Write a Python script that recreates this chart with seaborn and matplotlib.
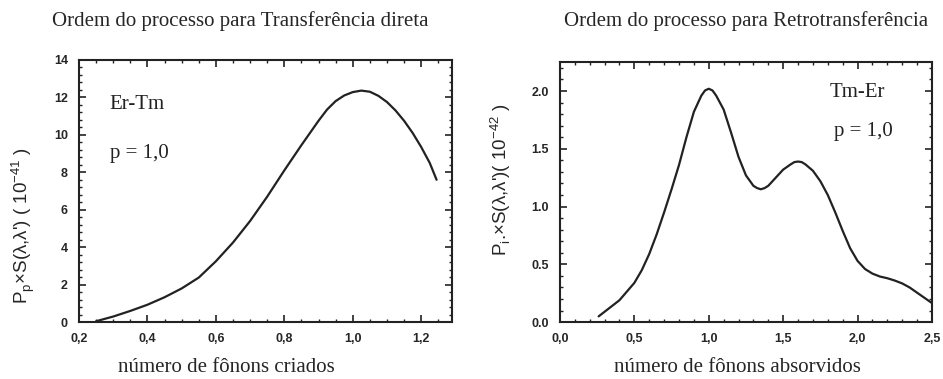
import matplotlib
matplotlib.use("Agg")
import matplotlib.pyplot as plt
from matplotlib.ticker import MultipleLocator
import seaborn as sns
import pandas as pd

# Direct transfer Er -> Tm: phonons created
direct_x = [0.25, 0.30, 0.35, 0.40, 0.45, 0.50, 0.55, 0.60, 0.65, 0.70, 0.75,
            0.80, 0.85, 0.90, 0.925, 0.95, 0.975, 1.00, 1.025, 1.05, 1.075,
            1.10, 1.125, 1.15, 1.175, 1.20, 1.225, 1.245]
direct_y = [0.05, 0.30, 0.60, 0.93, 1.33, 1.80, 2.38, 3.25, 4.25, 5.40, 6.70,
            8.10, 9.45, 10.75, 11.35, 11.80, 12.10, 12.28, 12.36, 12.30, 12.08,
            11.75, 11.30, 10.75, 10.10, 9.35, 8.50, 7.60]

# Back transfer Tm -> Er: phonons absorbed
back_x = [0.26, 0.30, 0.40, 0.50, 0.55, 0.60, 0.65, 0.70, 0.75, 0.80, 0.85, 0.90,
          0.95, 0.975, 1.00, 1.025, 1.05, 1.10, 1.15, 1.20, 1.25, 1.30, 1.325,
          1.35, 1.375, 1.40, 1.45, 1.50, 1.55, 1.575, 1.60, 1.625, 1.65, 1.70,
          1.75, 1.80, 1.85, 1.90, 1.95, 2.00, 2.05, 2.10, 2.15, 2.20, 2.25, 2.30,
          2.35, 2.40, 2.45, 2.50]
back_y = [0.05, 0.09, 0.19, 0.34, 0.45, 0.59, 0.76, 0.95, 1.15, 1.36, 1.60, 1.82,
          1.96, 2.005, 2.02, 2.005, 1.96, 1.84, 1.64, 1.43, 1.27, 1.18, 1.16,
          1.15, 1.16, 1.18, 1.25, 1.32, 1.365, 1.385, 1.39, 1.385, 1.365, 1.31,
          1.22, 1.10, 0.95, 0.79, 0.64, 0.53, 0.46, 0.42, 0.395, 0.38, 0.36, 0.335,
          0.30, 0.255, 0.21, 0.165]

left_xticks = [0.2, 0.4, 0.6, 0.8, 1.0, 1.2]
left_xlabels = ["0,2", "0,4", "0,6", "0,8", "1,0", "1,2"]
left_yticks = [0, 2, 4, 6, 8, 10, 12, 14]
left_ylabels = ["0", "2", "4", "6", "8", "10", "12", "14"]

right_xticks = [0.0, 0.5, 1.0, 1.5, 2.0, 2.5]
right_xlabels = ["0,0", "0,5", "1,0", "1,5", "2,0", "2,5"]
right_yticks = [0.0, 0.5, 1.0, 1.5, 2.0]
right_ylabels = ["0.0", "0.5", "1.0", "1.5", "2.0"]

sns.set_theme(style="ticks")
plt.rcParams["font.family"] = ["Liberation Sans", "DejaVu Sans"]

fig = plt.figure(figsize=(9.43, 3.79), dpi=100)
ax1 = fig.add_axes([0.0838, 0.150, 0.3955, 0.692])
ax2 = fig.add_axes([0.5938, 0.150, 0.3945, 0.6860])

df1 = pd.DataFrame({"x": direct_x, "y": direct_y})
df2 = pd.DataFrame({"x": back_x, "y": back_y})
sns.lineplot(data=df1, x="x", y="y", ax=ax1, color="#222222", linewidth=1.6)
sns.lineplot(data=df2, x="x", y="y", ax=ax2, color="#222222", linewidth=1.6)

serif = ["Liberation Serif", "DejaVu Serif"]
tick_font = dict(family=["Liberation Sans", "DejaVu Sans"], weight="bold", size=9)


def style_axes(ax, xlim, ylim, xt, xl, yt, yl, xminor, yminor):
    ax.set_xlim(*xlim)
    ax.set_ylim(*ylim)
    ax.set_xticks(xt)
    ax.set_xticklabels(xl, fontdict=tick_font)
    ax.set_yticks(yt)
    ax.set_yticklabels(yl, fontdict=tick_font)
    ax.xaxis.set_minor_locator(MultipleLocator(xminor))
    ax.yaxis.set_minor_locator(MultipleLocator(yminor))
    ax.tick_params(which="both", direction="in", top=True, right=True,
                   color="#222222")
    ax.tick_params(axis="x", which="major", pad=8)
    ax.tick_params(axis="y", which="major", pad=8)
    ax.tick_params(which="major", length=5, width=1.2)
    ax.tick_params(which="minor", length=2.5, width=1.0)
    for s in ax.spines.values():
        s.set_visible(True)
        s.set_linewidth(1.5)
        s.set_color("#222222")


style_axes(ax1, (0.2, 1.29), (0, 14), left_xticks, left_xlabels,
           left_yticks, left_ylabels, 0.05, 0.4)
style_axes(ax2, (0.0, 2.5), (0, 2.25), right_xticks, right_xlabels,
           right_yticks, right_ylabels, 0.1, 0.1)

ax1.set_xlabel("número de fônons criados", family=serif, size=15)
ax1.xaxis.set_label_coords(0.395, -0.138)
ax1.set_ylabel("P$_\\mathregular{p}$×S(λ,λ') ( 10$^\\mathregular{-41}$ )", size=13.5)
ax1.yaxis.set_label_coords(-0.112, 0.37)

ax2.set_xlabel("número de fônons absorvidos", family=serif, size=15)
ax2.xaxis.set_label_coords(0.476, -0.138)
ax2.set_ylabel("P$_\\mathregular{i}$.×S(λ,λ')( 10$^\\mathregular{-42}$ )", size=13.5)
ax2.yaxis.set_label_coords(-0.127, 0.546)

ax1.text(0.29, 11.6, "Er-Tm", family=serif, size=15, va="center", color="#222222")
ax1.text(0.29, 9.0, "p = 1,0", family=serif, size=15, va="center", color="#222222")
ax2.text(1.81, 1.99, "Tm-Er", family=serif, size=15, va="center", color="#222222")
ax2.text(1.84, 1.65, "p = 1,0", family=serif, size=15, va="center", color="#222222")

fig.text(240 / 943, 1 - 21 / 379, "Ordem do processo para Transferência direta",
         family=serif, size=15, ha="center", va="center")
fig.text(746 / 943, 1 - 21 / 379, "Ordem do processo para Retrotransferência",
         family=serif, size=15, ha="center", va="center")

fig.savefig("out.png", dpi=100)
